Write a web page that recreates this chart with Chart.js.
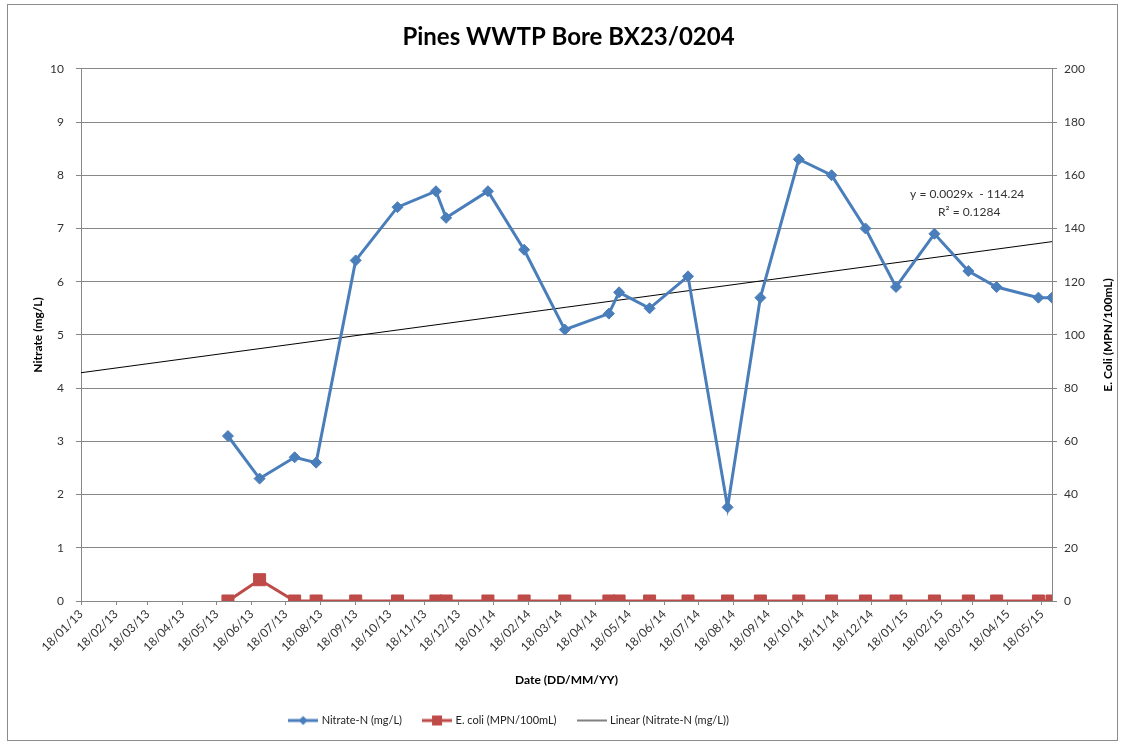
<!DOCTYPE html>
<html lang="en">
<head>
<meta charset="UTF-8">
<title>Pines WWTP Bore BX23/0204</title>
<script src="https://cdn.jsdelivr.net/npm/chart.js"></script>
<style>
    html, body { margin: 0; padding: 0; background: #fff; }
    .chart-box { width: 1123px; height: 744px; position: relative; }
</style>
</head>
<body>
<div class="chart-box"><canvas id="boreChart"></canvas></div>
<script>
// ---------- sampling data ----------
const sampleDates = [
    '2013-05-28', '2013-06-25', '2013-07-26', '2013-08-14', '2013-09-18', '2013-10-25',
    '2013-11-28', '2013-12-07', '2014-01-13', '2014-02-14', '2014-03-22', '2014-04-30',
    '2014-05-09', '2014-06-05', '2014-07-09', '2014-08-13', '2014-09-11', '2014-10-15',
    '2014-11-13', '2014-12-13', '2015-01-09', '2015-02-12', '2015-03-14', '2015-04-08',
    '2015-05-15', '2015-05-27'
];
const nitrateN = [3.1, 2.3, 2.7, 2.6, 6.4, 7.4, 7.7, 7.2, 7.7, 6.6, 5.1, 5.4, 5.8, 5.5, 6.1, 1.76, 5.7, 8.3, 8.0, 7.0, 5.9, 6.9, 6.2, 5.9, 5.7, 5.7];
const eColi = [0, 8, 0, 0, 0, 0, 0, 0, 0, 0, 0, 0, 0, 0, 0, 0, 0, 0, 0, 0, 0, 0, 0, 0, 0, 0];

// date axis ticks (DD/MM/YY)
const tickLabels = [
    '18/01/13', '18/02/13', '18/03/13', '18/04/13', '18/05/13', '18/06/13', '18/07/13', '18/08/13',
    '18/09/13', '18/10/13', '18/11/13', '18/12/13', '18/01/14', '18/02/14', '18/03/14', '18/04/14',
    '18/05/14', '18/06/14', '18/07/14', '18/08/14', '18/09/14', '18/10/14', '18/11/14', '18/12/14',
    '18/01/15', '18/02/15', '18/03/15', '18/04/15', '18/05/15'
];
const axisStart = '2013-01-18';
const axisEnd = '2015-05-27';
const trendText = ['y = 0.0029x  - 114.24', 'R\u00B2 = 0.1284'];

// ---------- helpers ----------
const DAY = 86400000;
const isoDay = s => Date.UTC(+s.slice(0, 4), +s.slice(5, 7) - 1, +s.slice(8, 10)) / DAY;
const tickDay = s => {
    const [d, m, y] = s.split('/');
    return Date.UTC(2000 + +y, +m - 1, +d) / DAY;
};

function linearFit(xs, ys) {
    const n = xs.length;
    const mx = xs.reduce((a, b) => a + b, 0) / n;
    const my = ys.reduce((a, b) => a + b, 0) / n;
    let sxy = 0, sxx = 0;
    for (let i = 0; i < n; i++) {
        sxy += (xs[i] - mx) * (ys[i] - my);
        sxx += (xs[i] - mx) * (xs[i] - mx);
    }
    const slope = sxy / sxx;
    return { slope, intercept: my - slope * mx };
}

// legend swatches: line with marker, like the spreadsheet legend
function makeIcon(color, shape) {
    const c = document.createElement('canvas');
    c.width = 30; c.height = 12;
    const g = c.getContext('2d');
    g.strokeStyle = color;
    g.lineWidth = shape ? 3 : 1;
    g.beginPath(); g.moveTo(0, 6); g.lineTo(30, 6); g.stroke();
    g.fillStyle = color;
    if (shape === 'diamond') {
        g.beginPath(); g.moveTo(15, 1.5); g.lineTo(19.5, 6); g.lineTo(15, 10.5); g.lineTo(10.5, 6); g.closePath(); g.fill();
    } else if (shape === 'square') {
        g.fillRect(10, 1, 10, 10);
    }
    return c;
}

const BLUE = '#4A7EBB';
const RED = '#BE4B48';
const GRID = '#878787';
const FONT = 'Lato';

const frame = {
    id: 'frame',
    beforeDraw(chart) {
        const ctx = chart.ctx;
        ctx.save();
        ctx.fillStyle = '#fff';
        ctx.fillRect(0, 0, chart.width, chart.height);
        ctx.strokeStyle = '#8c8c8c';
        ctx.lineWidth = 1;
        ctx.strokeRect(7.5, 4.5, 1110, 736);
        ctx.restore();
    },
    afterLayout(chart) {
        // legend sits left of centre in the original
        chart.legend.left -= 59;
        chart.legend.right -= 59;
    },
    afterDraw(chart) {
        const { ctx, chartArea, scales } = chart;
        ctx.save();
        // right axis title reads bottom-to-top
        ctx.translate(chartArea.right + 56, (chartArea.top + chartArea.bottom) / 2);
        ctx.rotate(-Math.PI / 2);
        ctx.font = `bold 12px ${FONT}`;
        ctx.fillStyle = '#000';
        ctx.textAlign = 'center';
        ctx.textBaseline = 'middle';
        ctx.fillText('E. Coli (MPN/100mL)', 0, 0);
        ctx.restore();

        // trendline equation
        ctx.save();
        ctx.font = `12px ${FONT}`;
        ctx.fillStyle = '#333';
        ctx.textAlign = 'center';
        ctx.textBaseline = 'middle';
        const lx = scales.x.getPixelForValue(isoDay('2015-03-13'));
        const ly = scales.y.getPixelForValue(7.64);
        ctx.fillText(trendText[0], lx, ly);
        ctx.fillText(trendText[1], lx + 2, ly + 18);
        ctx.restore();
    }
};

function drawChart() {
    Chart.defaults.font.family = FONT;
    Chart.defaults.font.size = 12;

    const xs = sampleDates.map(isoDay);
    const fit = linearFit(xs, nitrateN);
    const xMin = isoDay(axisStart);
    const xMax = isoDay(axisEnd);
    const legendIcons = [makeIcon(BLUE, 'diamond'), makeIcon(RED, 'square'), makeIcon('#000', null)];

    new Chart(document.getElementById('boreChart'), {
        type: 'line',
        data: {
            datasets: [
                {
                    label: 'Nitrate-N (mg/L)',
                    data: xs.map((x, i) => ({ x, y: nitrateN[i] })),
                    borderColor: BLUE,
                    backgroundColor: BLUE,
                    borderWidth: 3,
                    pointStyle: 'rectRot',
                    pointRadius: 5.5,
                    pointBorderWidth: 1,
                    yAxisID: 'y'
                },
                {
                    label: 'E. coli (MPN/100mL)',
                    data: xs.map((x, i) => ({ x, y: eColi[i] })),
                    borderColor: RED,
                    backgroundColor: RED,
                    borderWidth: 3,
                    pointStyle: 'rect',
                    pointRadius: 8.5,
                    pointBorderWidth: 1,
                    yAxisID: 'y1'
                },
                {
                    label: 'Linear (Nitrate-N (mg/L))',
                    data: [xMin, xMax].map(x => ({ x, y: fit.intercept + fit.slope * x })),
                    borderColor: '#000',
                    borderWidth: 1,
                    pointRadius: 0,
                    yAxisID: 'y'
                }
            ]
        },
        options: {
            responsive: true,
            maintainAspectRatio: false,
            animation: false,
            layout: { padding: { left: 14, right: 0, top: 0, bottom: 8 } },
            plugins: {
                tooltip: { enabled: false },
                title: {
                    display: true,
                    text: 'Pines WWTP Bore BX23/0204',
                    color: '#000',
                    font: { size: 24, weight: 'bold' },
                    padding: { top: 23, bottom: 17 }
                },
                legend: {
                    position: 'bottom',
                    labels: {
                        usePointStyle: true,
                        pointStyleWidth: 26,
                        padding: 22,
                        color: '#222',
                        font: { size: 11 },
                        generateLabels(chart) {
                            const items = Chart.defaults.plugins.legend.labels.generateLabels(chart);
                            items.forEach((it, i) => { it.pointStyle = legendIcons[i]; });
                            return items;
                        }
                    }
                }
            },
            scales: {
                x: {
                    type: 'linear',
                    min: xMin,
                    max: xMax,
                    afterBuildTicks(scale) {
                        scale.ticks = tickLabels.map(t => ({ value: tickDay(t) }));
                    },
                    afterFit(scale) { scale.height = 92; },
                    ticks: {
                        autoSkip: false,
                        minRotation: 45,
                        maxRotation: 45,
                        padding: 2,
                        color: '#333',
                        callback: (v, i) => tickLabels[i]
                    },
                    grid: { drawOnChartArea: false, tickLength: 4, color: GRID },
                    border: { color: GRID },
                    title: {
                        display: true,
                        text: 'Date (DD/MM/YY)',
                        color: '#000',
                        font: { size: 12, weight: 'bold' },
                        padding: { top: 0, bottom: 6 }
                    }
                },
                y: {
                    position: 'left',
                    min: 0,
                    max: 10,
                    afterFit(scale) { scale.width = 67; },
                    ticks: { stepSize: 1, padding: 12, color: '#333' },
                    grid: { color: GRID, tickLength: 5 },
                    border: { color: GRID },
                    title: {
                        display: true,
                        text: 'Nitrate (mg/L)',
                        color: '#000',
                        font: { size: 12, weight: 'bold' },
                        padding: { top: 17 }
                    }
                },
                y1: {
                    position: 'right',
                    min: 0,
                    max: 200,
                    afterFit(scale) { scale.width = 71; },
                    ticks: { stepSize: 20, padding: 7, color: '#333' },
                    grid: { drawOnChartArea: false, tickLength: 5, color: GRID },
                    border: { color: GRID }
                }
            }
        },
        plugins: [frame]
    });
}

document.fonts.load(`bold 24px ${FONT}`)
    .then(() => document.fonts.load(`12px ${FONT}`))
    .catch(() => {})
    .then(drawChart);
</script>
</body>
</html>
